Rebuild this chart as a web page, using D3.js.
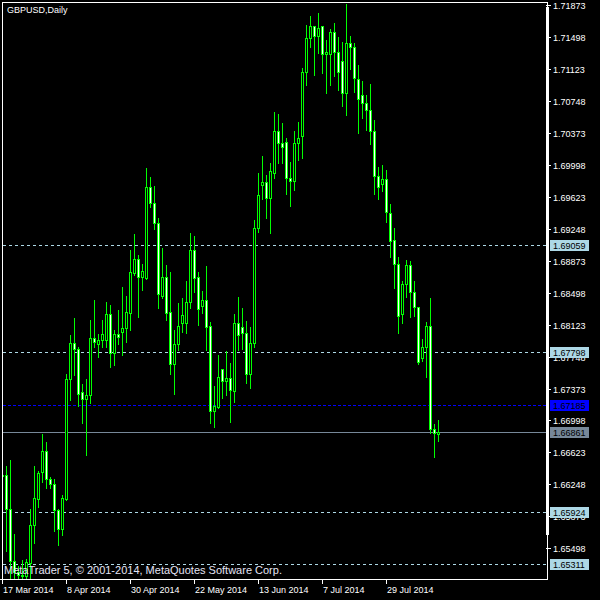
<!DOCTYPE html>
<html><head><meta charset="utf-8">
<script src="https://cdn.jsdelivr.net/npm/d3@7"></script>
<style>body{margin:0;background:#000}svg{display:block}</style>
</head><body><svg id="c" width="600" height="600"></svg>
<script>
// ---- data (GBPUSD daily, 17 Mar 2014 .. 15 Aug 2014) ----
const open = [1.66346,1.66358,1.65959,1.65349,1.65220,1.65185,1.65173,1.65325,1.65771,1.66076,
1.66393,1.66640,1.66311,1.66252,1.65947,1.65724,1.66076,1.67485,1.67907,1.67837,
1.67332,1.67250,1.67297,1.67966,1.67895,1.67942,1.67942,1.68247,1.67790,1.68013,
1.68036,1.68083,1.68259,1.68728,1.68893,1.68681,1.68670,1.69737,1.69550,1.69315,
1.68458,1.68681,1.68271,1.67661,1.67895,1.68142,1.68142,1.68388,1.68998,1.68681,
1.68341,1.68412,1.68106,1.67109,1.67156,1.67602,1.67461,1.67496,1.67344,1.68142,
1.68095,1.68024,1.67543,1.67907,1.69256,1.69761,1.69796,1.69608,1.69902,1.70395,
1.70254,1.70265,1.69843,1.69808,1.70254,1.70336,1.71087,1.71486,1.71627,1.71509,
1.71627,1.71298,1.71298,1.71556,1.71322,1.71216,1.70840,1.71427,1.71380,1.71005,
1.70817,1.70723,1.70641,1.70395,1.69866,1.69773,1.69831,1.69432,1.69116,1.68834,
1.68247,1.68599,1.68822,1.68505,1.68329,1.67731,1.67860,1.68106,1.66898,1.66839];
const high = [1.66417,1.66475,1.66546,1.65677,1.65302,1.65372,1.65384,1.65971,1.66475,1.66417,
1.66851,1.66757,1.66346,1.66323,1.65971,1.66135,1.67555,1.68013,1.68212,1.67872,
1.67438,1.67496,1.68189,1.68423,1.68024,1.68189,1.68400,1.68365,1.68071,1.68306,
1.68576,1.68470,1.69010,1.69198,1.68951,1.68846,1.69972,1.69866,1.69761,1.69385,
1.69033,1.68834,1.68752,1.68071,1.68388,1.68447,1.68646,1.69209,1.69174,1.68752,
1.68529,1.68822,1.68165,1.67414,1.67778,1.67614,1.67825,1.67684,1.68259,1.68458,
1.68329,1.68177,1.68106,1.69362,1.69913,1.70113,1.69890,1.70031,1.70629,1.70606,
1.70500,1.70324,1.70043,1.70406,1.70512,1.71146,1.71650,1.71756,1.71638,1.71791,
1.71638,1.71474,1.71603,1.71674,1.71509,1.71451,1.71896,1.71521,1.71439,1.71181,
1.70993,1.70829,1.70958,1.70535,1.69984,1.70007,1.69949,1.69550,1.69268,1.68928,
1.68646,1.68893,1.68881,1.68646,1.68341,1.67966,1.68165,1.68447,1.66968,1.67015];
const low = [1.66299,1.65466,1.65149,1.65009,1.65009,1.65067,1.65067,1.65126,1.65560,1.65983,
1.66276,1.66206,1.66206,1.65701,1.65537,1.65654,1.66065,1.67238,1.67531,1.67168,
1.66968,1.66593,1.67203,1.67860,1.67743,1.67860,1.67860,1.67625,1.67649,1.67895,
1.67766,1.67919,1.68060,1.68705,1.68212,1.68529,1.68658,1.69503,1.69245,1.68318,
1.68435,1.68177,1.67543,1.67309,1.67825,1.68036,1.68024,1.68318,1.68505,1.68118,
1.68259,1.67825,1.66968,1.66921,1.67144,1.67262,1.67297,1.66980,1.67215,1.67825,
1.67837,1.67438,1.67379,1.67860,1.69209,1.69597,1.69374,1.69198,1.69843,1.70019,
1.70019,1.69655,1.69515,1.69702,1.70054,1.70078,1.70934,1.71380,1.71052,1.71310,
1.71075,1.70840,1.70934,1.71040,1.70876,1.70688,1.70582,1.71122,1.70852,1.70371,
1.70547,1.70406,1.70242,1.69655,1.69597,1.69691,1.69327,1.68916,1.68552,1.68024,
1.68142,1.68447,1.68212,1.68224,1.67661,1.67696,1.67508,1.66851,1.66569,1.66757];
const close = [1.66358,1.65959,1.65349,1.65220,1.65185,1.65173,1.65337,1.65771,1.66088,1.66382,
1.66640,1.66311,1.66252,1.65947,1.65724,1.66088,1.67485,1.67907,1.67837,1.67309,
1.67250,1.67297,1.67966,1.67919,1.67942,1.68013,1.68247,1.67790,1.68013,1.67977,
1.68083,1.68271,1.68740,1.68893,1.68681,1.68752,1.69737,1.69550,1.69315,1.68482,
1.68681,1.68259,1.67661,1.67895,1.68106,1.68236,1.68388,1.68998,1.68670,1.68306,
1.68412,1.68095,1.67109,1.67168,1.67508,1.67461,1.67496,1.67355,1.68142,1.68001,
1.68024,1.67543,1.67907,1.69256,1.69644,1.69796,1.69608,1.69925,1.70395,1.70254,
1.70207,1.69843,1.69808,1.70254,1.70312,1.71087,1.71486,1.71627,1.71509,1.71603,
1.71298,1.71322,1.71556,1.71322,1.71087,1.70840,1.71427,1.71380,1.71016,1.70770,
1.70723,1.70641,1.70395,1.69866,1.69737,1.69831,1.69444,1.69104,1.68834,1.68224,
1.68599,1.68822,1.68505,1.68329,1.67684,1.67860,1.68106,1.66898,1.66851,1.66861];
const dateLabels = ['17 Mar 2014','8 Apr 2014','30 Apr 2014','22 May 2014','13 Jun 2014','7 Jul 2014','29 Jul 2014'];
const dateIndex = [0,16,32,48,64,80,96];
const priceTicks = [1.71873,1.71498,1.71123,1.70748,1.70373,1.69998,1.69623,1.69248,1.68873,1.68498,
1.68123,1.67748,1.67373,1.66998,1.66623,1.66248,1.65873,1.65498];
const levelLines = [1.69059,1.67798,1.65924,1.65311];
const blueLine = 1.67185;
const bidLine = 1.66861;

// ---- drawing ----
const FONT = "Tahoma, 'Liberation Sans', Arial, sans-serif";
const LIME = '#00ff00';
const svg = d3.select('#c');
svg.append('rect').attr('width',600).attr('height',600).attr('fill','#000');

const x = d3.scaleLinear().domain([0,109]).range([2.5, 438.5]);
const y = d3.scaleLinear().domain([1.65498, 1.71873]).range([548.3, 5]);
const py = v => Math.round(y(v)) + 0.5;

svg.append('defs').append('clipPath').attr('id','plot')
  .append('rect').attr('x',3).attr('y',3).attr('width',543).attr('height',576);
const plot = svg.append('g').attr('clip-path','url(#plot)');

// level lines
plot.selectAll('line.lvl').data(levelLines).join('line')
  .attr('x1',3).attr('x2',546).attr('y1',py).attr('y2',py)
  .attr('stroke','#add8e6').attr('stroke-dasharray','3,3').attr('shape-rendering','crispEdges');
plot.append('line').attr('x1',3).attr('x2',546).attr('y1',py(blueLine)).attr('y2',py(blueLine))
  .attr('stroke','#0000ff').attr('stroke-dasharray','3,2').attr('shape-rendering','crispEdges');
plot.append('line').attr('x1',3).attr('x2',546).attr('y1',py(bidLine)).attr('y2',py(bidLine))
  .attr('stroke','#778899').attr('shape-rendering','crispEdges');

// candles
const idx = d3.range(open.length);
const cg = plot.append('g');
cg.selectAll('line.w').data(idx).join('line')
  .attr('x1',i=>x(i)).attr('x2',i=>x(i))
  .attr('y1',i=>py(high[i])).attr('y2',i=>py(low[i]))
  .attr('stroke',LIME).attr('shape-rendering','crispEdges');
cg.selectAll('path.b').data(idx).join('path')
  .attr('d',i=>{
    const t = Math.round(y(Math.max(open[i],close[i])));
    const b = Math.round(y(Math.min(open[i],close[i])));
    const xl = x(i)-1;
    return `M${xl},${t+0.5}h2v${b-t}h-2Z`;
  })
  .attr('fill',i=> close[i]>open[i] ? '#000' : '#fff')
  .attr('stroke',LIME).attr('shape-rendering','crispEdges');

// frame
const fr = svg.append('g').attr('stroke','#fff').attr('shape-rendering','crispEdges');
fr.append('line').attr('x1',2.5).attr('x2',2.5).attr('y1',2).attr('y2',580);
fr.append('line').attr('x1',2).attr('x2',548).attr('y1',2.5).attr('y2',2.5);
fr.append('line').attr('x1',0).attr('x2',548).attr('y1',579.5).attr('y2',579.5);
fr.append('line').attr('x1',547.5).attr('x2',547.5).attr('y1',2).attr('y2',580);
svg.append('rect').attr('x',546).attr('y',7).attr('width',3).attr('height',528).attr('fill','#fff');

// price axis
const ya = svg.append('g');
ya.selectAll('line').data(priceTicks).join('line')
  .attr('x1',546).attr('x2',551).attr('y1',py).attr('y2',py)
  .attr('stroke','#fff').attr('shape-rendering','crispEdges');
ya.selectAll('text').data(priceTicks).join('text')
  .attr('x',553).attr('y',d=>py(d)+3.5)
  .attr('fill','#fff').attr('font-family',FONT).attr('font-size',9)
  .text(d=>d.toFixed(5));

// price labels for lines
const boxes = levelLines.map(v=>({v,fill:'#add8e6'}))
  .concat([{v:blueLine,fill:'#0000ff'},{v:bidLine,fill:'#778899'}]);
const bg = svg.append('g').selectAll('g').data(boxes).join('g');
bg.append('rect').attr('x',550).attr('y',d=>Math.round(y(d.v))-5).attr('width',39).attr('height',11)
  .attr('fill',d=>d.fill);
bg.append('text').attr('x',553).attr('y',d=>py(d.v)+3.5)
  .attr('fill','#000').attr('font-family',FONT).attr('font-size',9)
  .text(d=>d.v.toFixed(5));

// time axis
const xa = svg.append('g');
xa.selectAll('line').data(dateIndex).join('line')
  .attr('x1',i=>x(i)).attr('x2',i=>x(i)).attr('y1',580).attr('y2',584)
  .attr('stroke','#fff').attr('shape-rendering','crispEdges');
xa.selectAll('text').data(dateIndex).join('text')
  .attr('x',i=>x(i)+0.5).attr('y',593)
  .attr('fill','#fff').attr('font-family',FONT).attr('font-size',9)
  .text((i,k)=>dateLabels[k]);

// texts
svg.append('text').attr('x',7).attr('y',13).attr('fill','#fff')
  .attr('font-family',FONT).attr('font-size',9).text('GBPUSD,Daily');
svg.append('text').attr('x',4).attr('y',574).attr('fill','#e4e4f4')
  .attr('font-family',FONT).attr('font-size',11)
  .text('MetaTrader 5, © 2001-2014, MetaQuotes Software Corp.');
</script></body></html>
